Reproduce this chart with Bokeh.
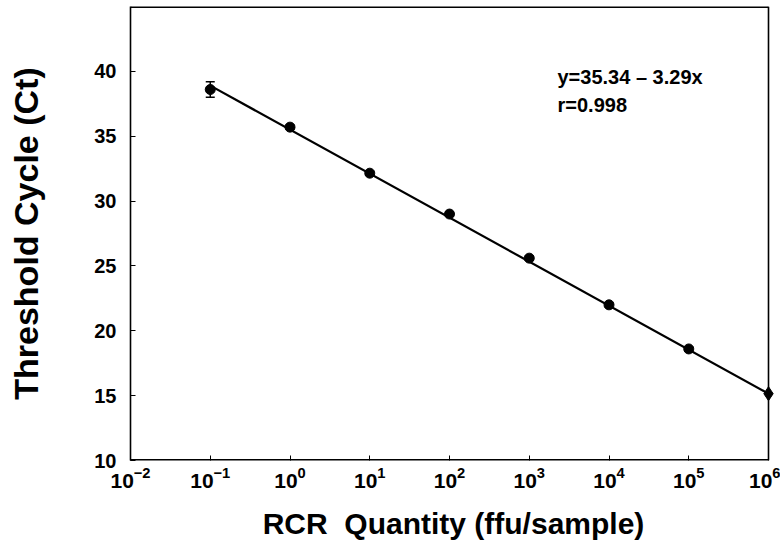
from bokeh.plotting import figure
from bokeh.models import FixedTicker, Label, Whisker, TeeHead, ColumnDataSource, Range1d
from bokeh.embed import file_html
from bokeh.resources import INLINE

# Data
quantity = [1e-1, 1e0, 1e1, 1e2, 1e3, 1e4, 1e5]
ct_mean = [38.6, 35.7, 32.15, 29.0, 25.6, 22.0, 18.6]
ct_err = [0.6, 0.15, 0.15, 0.15, 0.15, 0.15, 0.15]
last_quantity = [1e6]
last_ct = [15.15]
fit_x = [1e-1, 1e6]
fit_y = [38.9, 15.15]
x_ticks = [1e-2, 1e-1, 1e0, 1e1, 1e2, 1e3, 1e4, 1e5, 1e6]
y_ticks = [10, 15, 20, 25, 30, 35, 40]
x_lo, x_hi = 1e-2, 1e6
y_lo, y_hi = 10, 45
equation_text = "y=35.34 \u2013 3.29x"
r_text = "r=0.998"

FONT = "Liberation Sans"

# frame extends a few pixels past 10^6 so the last marker is not clipped;
# the visible box is drawn at 10^6 instead of using the outline
px_per_decade = 79.75
extra_px = 8
x_end = x_hi * 10 ** (extra_px / px_per_decade)

p = figure(width=780, height=551, x_axis_type="log", output_backend="svg",
           toolbar_location=None, x_range=Range1d(x_lo, x_end), y_range=Range1d(y_lo, y_hi),
           min_border_left=130, min_border_right=12 - extra_px, min_border_top=6, min_border_bottom=91)
p.grid.visible = False
p.outline_line_color = None
p.background_fill_color = "white"
p.border_fill_color = "white"

# box lines (top, right, bottom)
p.line([x_lo, x_hi], [y_hi, y_hi], line_color="black", line_width=3)
p.line([x_hi, x_hi], [y_lo, y_hi], line_color="black", line_width=1.6)
p.line([x_lo, x_hi], [y_lo, y_lo], line_color="black", line_width=3)

# Fit line
p.line(fit_x, fit_y, line_color="black", line_width=2.2)

# error bars
lower = [m - e for m, e in zip(ct_mean, ct_err)]
upper = [m + e for m, e in zip(ct_mean, ct_err)]
src = ColumnDataSource(dict(x=quantity, y=ct_mean, lower=lower, upper=upper))
w = Whisker(source=src, base="x", lower="lower", upper="upper", line_color="black", line_width=1.5,
            upper_head=TeeHead(size=9, line_color="black", line_width=1.5),
            lower_head=TeeHead(size=9, line_color="black", line_width=1.5))
p.add_layout(w)

p.scatter("x", "y", source=src, size=10, marker="circle", fill_color="black", line_color="black")
p.scatter(last_quantity, last_ct, size=14, marker="diamond", fill_color="black", line_color="black")

# Axes
xa = p.xaxis[0]
xa.ticker = FixedTicker(ticks=x_ticks)
xa.axis_line_color = None
ya = p.yaxis[0]
ya.ticker = FixedTicker(ticks=y_ticks)
ya.axis_line_color = "black"
ya.axis_line_width = 1.6

for ax in (xa, ya):
    ax.major_tick_in = 5
    ax.major_tick_out = 0
    ax.minor_tick_line_color = None
    ax.major_tick_line_color = "black"
    ax.major_label_text_font = FONT
    ax.major_label_text_font_style = "bold"
    ax.major_label_text_color = "black"
    ax.axis_label_text_font = FONT
    ax.axis_label_text_font_style = "bold"
    ax.axis_label_text_color = "black"

xa.major_label_text_font_size = "21px"
ya.major_label_text_font_size = "20px"
xa.major_label_standoff = 6
ya.major_label_standoff = 14

xa.axis_label = "RCR\u00a0 Quantity (ffu/sample)"
xa.axis_label_text_font_size = "30px"
xa.axis_label_standoff = 16
ya.axis_label = "Threshold Cycle (Ct)"
ya.axis_label_text_font_size = "34px"
ya.axis_label_standoff = 46

p.add_layout(Label(x=2260, y=39.53, text=equation_text, text_font=FONT, text_font_style="bold",
                   text_font_size="20px", text_color="black", text_baseline="alphabetic"))
p.add_layout(Label(x=2260, y=37.37, text=r_text, text_font=FONT, text_font_style="bold",
                   text_font_size="20px", text_color="black", text_baseline="alphabetic"))

open("out.html", "w").write(file_html(p, INLINE))
